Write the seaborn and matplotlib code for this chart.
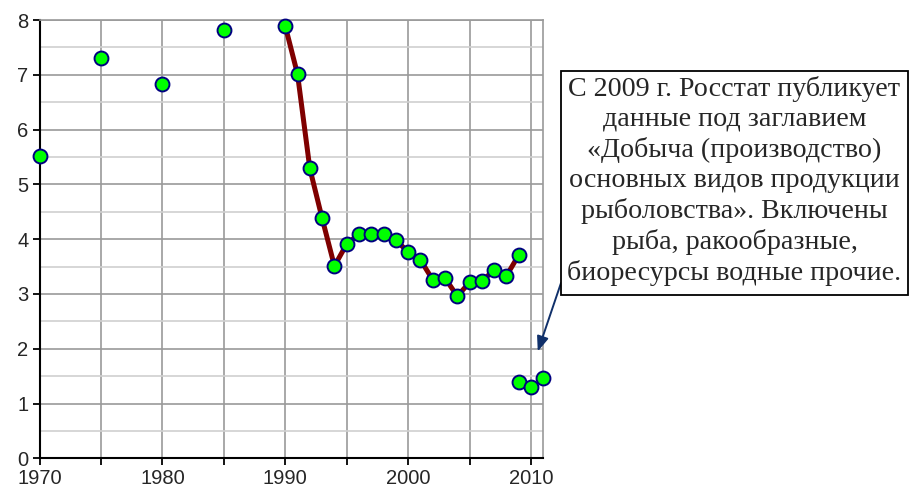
import numpy as np
import pandas as pd
import matplotlib
matplotlib.use("Agg")
import matplotlib.pyplot as plt
from matplotlib.patches import Rectangle
from matplotlib.ticker import MultipleLocator
import seaborn as sns

# Data
early_years = [1970, 1975, 1980, 1985]
early_vals = [5.52, 7.31, 6.83, 7.82]
years_old = [1990, 1991, 1992, 1993, 1994, 1995, 1996, 1997, 1998, 1999,
             2000, 2001, 2002, 2003, 2004, 2005, 2006, 2007, 2008, 2009]
vals_old = [7.89, 7.01, 5.29, 4.38, 3.51, 3.91, 4.09, 4.09, 4.09, 3.99,
            3.76, 3.62, 3.26, 3.29, 2.96, 3.21, 3.24, 3.43, 3.33, 3.71]
years_new = [2009, 2010, 2011]
vals_new = [1.39, 1.31, 1.46]

note_text = ("С 2009 г. Росстат публикует\nданные под заглавием\n"
             "«Добыча (производство)\nосновных видов продукции\n"
             "рыболовства». Включены\nрыба, ракообразные,\n"
             "биоресурсы водные прочие.")

sns.set_style("white")
plt.rcParams['font.family'] = ['Liberation Sans', 'DejaVu Sans']

fig = plt.figure(figsize=(9.13, 4.94), dpi=100)
ax = fig.add_axes([39.5/913, 1-458.3/494, (543.3-39.5)/913, (458.3-20)/494])

df_line = pd.DataFrame({"year": years_old, "val": vals_old})
sns.lineplot(data=df_line, x="year", y="val", ax=ax, color="#7f0000",
             linewidth=3.6, zorder=3)

all_years = early_years + years_old + years_new
all_vals = early_vals + vals_old + vals_new
df_pts = pd.DataFrame({"year": all_years, "val": all_vals})
sns.scatterplot(data=df_pts, x="year", y="val", ax=ax, color="#00ff00",
                edgecolor="#000080", linewidth=1.4, s=100, zorder=4,
                clip_on=False)

ax.set_xlim(1970, 2011)
ax.set_ylim(0, 8)
ax.xaxis.set_major_locator(MultipleLocator(10))
ax.xaxis.set_minor_locator(MultipleLocator(5))
ax.yaxis.set_major_locator(MultipleLocator(1))
ax.yaxis.set_minor_locator(MultipleLocator(0.5))
ax.set_xlabel("")
ax.set_ylabel("")

ax.grid(which="major", color="#9a9a9a", linewidth=1.2, zorder=0)
ax.grid(which="minor", axis="y", color="#d0d0d0", linewidth=1.2, zorder=0)
ax.grid(which="minor", axis="x", color="#9a9a9a", linewidth=1.2, zorder=0)
ax.set_axisbelow(True)

ax.tick_params(axis="both", which="major", direction="out", length=5, width=1.3,
               color="black", labelsize=14.5, pad=3, bottom=True, left=True)
ax.tick_params(axis="x", which="minor", direction="out", length=5, width=1.3,
               color="black", bottom=True)
ax.tick_params(axis="y", which="minor", length=0)

for s in ["left", "bottom"]:
    ax.spines[s].set_color("black")
    ax.spines[s].set_linewidth(1.5)
for s in ["top", "right"]:
    ax.spines[s].set_color("#9a9a9a")
    ax.spines[s].set_linewidth(1.2)

# annotation box
W, H = 913, 494
bx0, by0, bx1, by1 = 561, 71, 908, 295
rect = Rectangle((bx0/W, 1-by1/H), (bx1-bx0)/W, (by1-by0)/H,
                 transform=fig.transFigure, facecolor="white",
                 edgecolor="black", linewidth=1.3, zorder=5)
fig.patches.append(rect)
fig.text((bx0+bx1)/2/W, 1-181/H, note_text, ha="center", va="center",
         family=["Liberation Serif", "DejaVu Serif"], fontsize=20.2,
         linespacing=1.26, zorder=6)

ax.annotate("", xy=(2010.55, 1.95), xycoords="data",
            xytext=(561/W, 1-283/H), textcoords="figure fraction",
            arrowprops=dict(arrowstyle="-|>,head_length=0.9,head_width=0.35",
                            color="#10306a", lw=1.4, shrinkA=0, shrinkB=0),
            annotation_clip=False)

fig.savefig("out.png", dpi=100)
